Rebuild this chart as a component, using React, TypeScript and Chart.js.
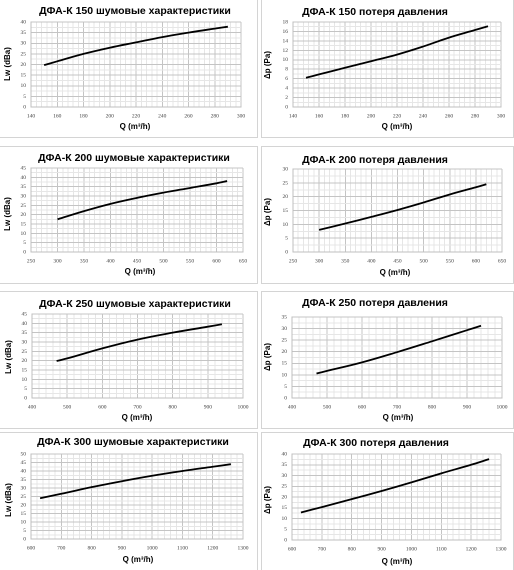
import React, { useEffect, useRef } from 'react';
import { Chart, registerables } from 'chart.js';
Chart.register(...registerables);

// ---- data ----
const q150 = [150, 160, 180, 200, 220, 240, 260, 280, 290];
const lw150 = [19.7, 21.5, 25.0, 27.9, 30.4, 32.9, 35, 36.9, 37.8];
const dp150 = [6.2, 6.9, 8.3, 9.7, 11.1, 12.8, 14.7, 16.3, 17.1];

const q200 = [300, 350, 400, 450, 500, 550, 600, 620];
const lw200 = [17.5, 21.9, 25.8, 29, 31.8, 34.3, 36.8, 38];
const dp200 = [8, 10.3, 12.7, 15.2, 17.9, 20.8, 23.4, 24.5];

const q250 = [470, 500, 600, 700, 800, 900, 940];
const lw250 = [19.8, 21.2, 26.6, 31.3, 35, 38.2, 39.5];
const dp250 = [10.6, 11.7, 15.4, 19.8, 24.5, 29.3, 31.2];

const q300 = [630, 700, 800, 900, 1000, 1100, 1200, 1260];
const lw300 = [24, 26.6, 30.5, 34, 37.2, 40, 42.5, 44];
const dp300 = [12.8, 15.3, 19, 22.8, 26.8, 31, 35, 37.6];

const titles = [
  'ДФА-К 150 шумовые характеристики', 'ДФА-К 150 потеря давления',
  'ДФА-К 200 шумовые характеристики', 'ДФА-К 200 потеря давления',
  'ДФА-К 250 шумовые характеристики', 'ДФА-К 250 потеря давления',
  'ДФА-К 300 шумовые характеристики', 'ДФА-К 300 потеря давления',
];
const yTitleNoise = 'Lw (dBa)';
const yTitlePressure = 'Δp (Pa)';
const xTitle = 'Q (m³/h)';

// x axis ranges [min, max, major]
const xAxis150 = [140, 300, 20];
const xAxis200 = [250, 650, 50];
const xAxis250 = [400, 1000, 100];
const xAxis300 = [600, 1300, 100];
// y axis ranges [max, major]
const yLw150 = [40, 5];
const yDp150 = [18, 2];
const yLw200 = [45, 5];
const yDp200 = [30, 5];
const yLw250 = [45, 5];
const yDp250 = [35, 5];
const yLw300 = [50, 5];
const yDp300 = [40, 5];

const series = [
  { q: q150, v: lw150, xa: xAxis150, ya: yLw150, yt: yTitleNoise },
  { q: q150, v: dp150, xa: xAxis150, ya: yDp150, yt: yTitlePressure },
  { q: q200, v: lw200, xa: xAxis200, ya: yLw200, yt: yTitleNoise },
  { q: q200, v: dp200, xa: xAxis200, ya: yDp200, yt: yTitlePressure },
  { q: q250, v: lw250, xa: xAxis250, ya: yLw250, yt: yTitleNoise },
  { q: q250, v: dp250, xa: xAxis250, ya: yDp250, yt: yTitlePressure },
  { q: q300, v: lw300, xa: xAxis300, ya: yLw300, yt: yTitleNoise },
  { q: q300, v: dp300, xa: xAxis300, ya: yDp300, yt: yTitlePressure },
];

// ---- layout (page coordinates) ----
const colX = [[-1, 259], [261, 253]];
const rowY = [[-2, 140], [146, 138], [291, 138], [432, 140]];
// plot rect L,T,R,B
const plots = [
  [31, 22, 241, 107], [293, 22, 501, 107],
  [31, 168, 243, 252], [293, 169, 502, 252],
  [32, 314, 243, 398], [292, 317, 502, 398],
  [31, 454, 243, 539], [292, 454, 501, 540],
];
// title center, y-title center, x-title center
const textPos = [
  { t: [135, 11], y: [8, 64], x: [135, 127] },
  { t: [375, 12], y: [268, 65], x: [397, 127] },
  { t: [134, 158], y: [8, 214], x: [140, 272] },
  { t: [375, 160], y: [268, 212], x: [395, 273] },
  { t: [135, 304], y: [9, 357], x: [137, 418] },
  { t: [375, 303], y: [268, 357], x: [398, 418] },
  { t: [133, 442], y: [9, 500], x: [138, 560] },
  { t: [376, 443], y: [268, 500], x: [397, 562] },
];

const isMajor = (v: number, m: number) => Math.abs(v / m - Math.round(v / m)) < 1e-6;

const textPlugin = {
  id: 'panelText',
  afterDraw(chart: any, _args: any, opts: any) {
    const ctx = chart.ctx;
    ctx.save();
    ctx.fillStyle = '#000';
    ctx.textAlign = 'center';
    ctx.textBaseline = 'middle';
    ctx.font = 'bold 10.5px "Liberation Sans", Arial, sans-serif';
    ctx.fillText(opts.title, opts.t[0], opts.t[1]);
    ctx.font = 'bold 8px "Liberation Sans", Arial, sans-serif';
    ctx.fillText(opts.xt, opts.x[0], opts.x[1]);
    ctx.translate(opts.y[0], opts.y[1]);
    ctx.rotate(-Math.PI / 2);
    ctx.fillText(opts.yt, 0, 0);
    ctx.restore();
  },
};

function Panel({ idx }: { idx: number }) {
  const ref = useRef<HTMLCanvasElement>(null);
  const col = colX[idx % 2];
  const row = rowY[Math.floor(idx / 2)];
  const left = col[0], top = row[0], w = col[1], h = row[1];
  useEffect(() => {
    const s = series[idx];
    const p = plots[idx];
    const tp = textPos[idx];
    const [xmin, xmax, xmaj] = s.xa;
    const [ymax, ymaj] = s.ya;
    const yw = p[0] - left;
    const xh = top + h - p[3];
    const tickFont = { family: '"Liberation Serif", serif', size: 5.5 };
    const chart = new Chart(ref.current!, {
      type: 'line',
      data: {
        datasets: [{
          data: s.q.map((q, i) => ({ x: q, y: s.v[i] })),
          borderColor: '#000',
          borderWidth: 1.8,
          pointRadius: 0,
          tension: 0.4,
          fill: false,
        }],
      },
      options: {
        animation: false,
        responsive: false,
        devicePixelRatio: 2,
        layout: { padding: { left: 0, top: p[1] - top, right: left + w - p[2], bottom: 0 } },
        plugins: {
          legend: { display: false },
          tooltip: { enabled: false },
          title: { display: false },
          panelText: { title: titles[idx], xt: xTitle, yt: s.yt, t: [tp.t[0] - left, tp.t[1] - top], y: [tp.y[0] - left, tp.y[1] - top], x: [tp.x[0] - left, tp.x[1] - top] },
        } as any,
        scales: {
          x: {
            type: 'linear',
            min: xmin,
            max: xmax,
            afterFit: (sc: any) => { sc.height = xh; sc.paddingLeft = 0; sc.paddingRight = 0; },
            ticks: {
              stepSize: xmaj / 5,
              autoSkip: false,
              maxRotation: 0,
              padding: 6,
              color: '#404040',
              font: tickFont,
              callback: (v: any) => (isMajor(Number(v), xmaj) ? String(v) : ''),
            },
            grid: {
              drawTicks: false,
              color: (c: any) => (c.tick && isMajor(c.tick.value, xmaj) ? '#c4c4c4' : '#e6e6e6'),
              lineWidth: 1,
            },
            border: { display: true, color: '#bfbfbf' },
          },
          y: {
            type: 'linear',
            min: 0,
            max: ymax,
            afterFit: (sc: any) => { sc.width = yw; sc.paddingTop = 0; sc.paddingBottom = 0; },
            ticks: {
              stepSize: ymaj / 2,
              autoSkip: false,
              padding: 5,
              color: '#404040',
              font: tickFont,
              callback: (v: any) => (isMajor(Number(v), ymaj) ? String(v) : ''),
            },
            grid: {
              drawTicks: false,
              color: (c: any) => (c.tick && isMajor(c.tick.value, ymaj) ? '#c4c4c4' : '#e6e6e6'),
              lineWidth: 1,
            },
            border: { display: true, color: '#bfbfbf' },
          },
        },
      },
      plugins: [textPlugin],
    } as any);
    return () => chart.destroy();
  }, [idx]);
  return (
    <>
      <canvas
        ref={ref}
        width={w}
        height={h}
        style={{ position: 'absolute', left, top, width: w, height: h }}
      />
      <div
        style={{
          position: 'absolute', left, top, width: w, height: h,
          border: '1px solid #d4d4d4', boxSizing: 'border-box', pointerEvents: 'none',
        }}
      />
    </>
  );
}

export default function App() {
  return (
    <div style={{ position: 'absolute', left: 0, top: 0, width: 514, height: 570, background: '#fff', overflow: 'hidden' }}>
      {series.map((_, i) => <Panel key={i} idx={i} />)}
    </div>
  );
}
